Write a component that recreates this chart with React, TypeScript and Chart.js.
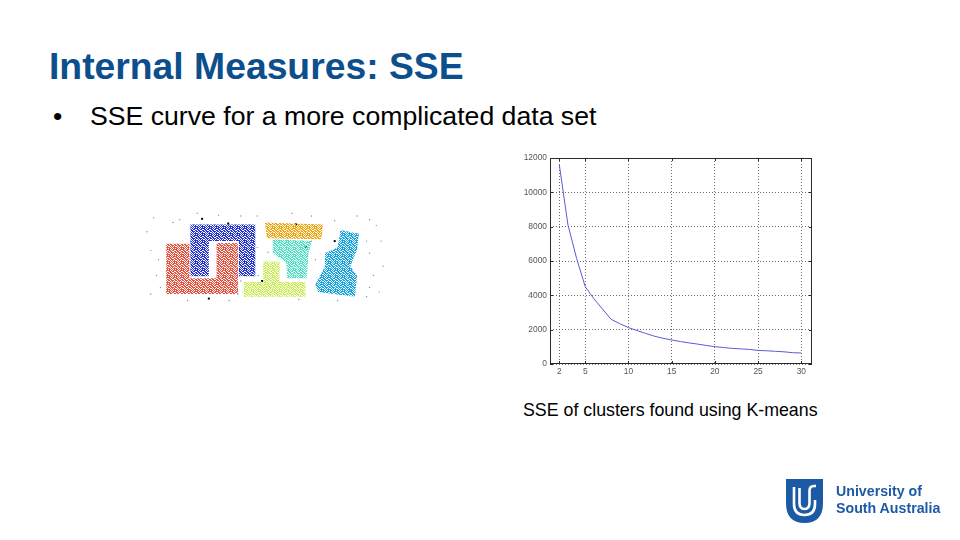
import React, { useEffect, useRef } from "react";
import { Chart, registerables } from "chart.js";
Chart.register(...registerables);

// ---- SSE curve data ----
const kValues = [2, 3, 4, 5, 6, 7, 8, 9, 10, 11, 12, 13, 14, 15, 16, 17, 18, 19, 20, 21, 22, 23, 24, 25, 26, 27, 28, 29, 30];
const sseValues = [11600, 8100, 6150, 4500, 3800, 3200, 2600, 2350, 2120, 1950, 1780, 1620, 1500, 1400, 1310, 1230, 1160, 1080, 1010, 960, 910, 880, 850, 790, 770, 740, 710, 660, 640];
const xTicks = [2, 5, 10, 15, 20, 25, 30];
const yTicks = [0, 2000, 4000, 6000, 8000, 10000, 12000];

// ---- cluster picture data (image units) ----
const redCluster = [[23, 43], [47, 43], [47, 80], [75, 80], [75, 42], [97, 42], [97, 97], [23, 97], [23, 43]];
const blueCluster = [[48, 22], [115, 22], [115, 78], [98, 78], [98, 40], [67, 40], [67, 78], [48, 78], [48, 22]];
const orangeCluster = [[125, 20], [185, 22], [183, 38], [127, 37], [125, 20]];
const cyanCluster = [[133, 38], [173, 40], [170, 53], [168, 80], [148, 80], [147, 63], [133, 53], [133, 38]];
const limeCluster = [[123, 62], [140, 62], [140, 84], [167, 84], [167, 100], [103, 100], [103, 84], [123, 84], [123, 62]];
const skyCluster = [[203, 28], [222, 32], [220, 50], [213, 67], [220, 77], [218, 100], [180, 95], [177, 87], [187, 67], [187, 53], [200, 47], [203, 28]];
const noisePoints = [[10, 15], [37, 17], [55, 10], [77, 12], [100, 13], [117, 13], [153, 10], [173, 13], [197, 18], [220, 13], [233, 17], [240, 23], [7, 50], [13, 77], [17, 90], [7, 97], [100, 83], [97, 97], [117, 47], [118, 77], [177, 60], [173, 40], [230, 40], [233, 53], [237, 77], [233, 90], [230, 100], [247, 67], [213, 93], [3, 30], [30, 20], [245, 40], [128, 52], [108, 55], [15, 60], [243, 95], [160, 103], [88, 104], [45, 104], [200, 104]];
const centroids = [[60, 16], [87, 21], [157, 22], [167, 46], [197, 40], [122, 83], [67, 102]];

function makePattern(color: string): CanvasPattern | string {
  const c = document.createElement("canvas");
  c.width = 7;
  c.height = 7;
  const g = c.getContext("2d");
  if (!g) return color;
  g.fillStyle = color;
  const mask = [
    [0, 0], [1, 0], [3, 0], [5, 0], [6, 0],
    [1, 1], [2, 1], [4, 1], [5, 1],
    [0, 2], [2, 2], [3, 2], [6, 2],
    [0, 3], [1, 3], [3, 3], [4, 3], [5, 3],
    [2, 4], [4, 4], [6, 4],
    [0, 5], [1, 5], [3, 5], [5, 5], [6, 5],
    [1, 6], [2, 6], [4, 6], [6, 6],
  ];
  mask.forEach(([x, y]) => g.fillRect(x, y, 1, 1));
  const p = g.createPattern(c, "repeat");
  return p || color;
}

const boxPlugin = {
  id: "matlabBox",
  afterDraw(chart: any) {
    const { ctx, chartArea } = chart;
    const { left, top, right, bottom } = chartArea;
    ctx.save();
    ctx.strokeStyle = "#2a2a2a";
    ctx.lineWidth = 1;
    ctx.strokeRect(Math.round(left) + 0.5, Math.round(top) + 0.5, Math.round(right - left) - 1, Math.round(bottom - top) - 1);
    const xs = chart.scales.x;
    const ys = chart.scales.y;
    ctx.beginPath();
    xTicks.forEach((v) => {
      const px = Math.round(xs.getPixelForValue(v)) + 0.5;
      ctx.moveTo(px, bottom);
      ctx.lineTo(px, bottom - 3);
      ctx.moveTo(px, top);
      ctx.lineTo(px, top + 3);
    });
    yTicks.forEach((v) => {
      const py = Math.round(ys.getPixelForValue(v)) + 0.5;
      ctx.moveTo(left, py);
      ctx.lineTo(left + 3, py);
      ctx.moveTo(right, py);
      ctx.lineTo(right - 3, py);
    });
    ctx.stroke();
    ctx.restore();
  },
};

function SSEChart() {
  const ref = useRef<HTMLCanvasElement>(null);
  useEffect(() => {
    if (!ref.current) return;
    const tickFont = { size: 8.4, family: "'Liberation Sans', Arial, sans-serif" };
    const chart = new Chart(ref.current, {
      type: "line",
      data: {
        datasets: [
          {
            data: kValues.map((k, i) => ({ x: k, y: sseValues[i] })),
            borderColor: "#5a5ad8",
            borderWidth: 1,
            pointRadius: 0,
            tension: 0,
            fill: false,
          },
        ],
      },
      options: {
        animation: false,
        responsive: false,
        events: [],
        layout: { padding: { top: 8, right: 8, left: 0, bottom: 0 } },
        plugins: { legend: { display: false }, tooltip: { enabled: false } },
        scales: {
          x: {
            type: "linear",
            min: 0.92,
            max: 31.24,
            afterBuildTicks: (s: any) => {
              s.ticks = xTicks.map((v) => ({ value: v }));
            },
            afterFit: (s: any) => {
              s.height = 16;
            },
            grid: { color: "#444", lineWidth: 0.8, drawTicks: false },
            border: { display: false, dash: [1, 2] },
            ticks: { color: "#555", font: tickFont, padding: 3, maxRotation: 0, autoSkip: false, callback: (v: any) => String(v) },
          },
          y: {
            type: "linear",
            min: 0,
            max: 12000,
            afterBuildTicks: (s: any) => {
              s.ticks = yTicks.map((v) => ({ value: v }));
            },
            afterFit: (s: any) => {
              s.width = 30;
            },
            grid: { color: "#444", lineWidth: 0.8, drawTicks: false },
            border: { display: false, dash: [1, 2] },
            ticks: { color: "#555", font: tickFont, padding: 3, autoSkip: false, callback: (v: any) => String(v) },
          },
        },
      },
      plugins: [boxPlugin],
    } as any);
    return () => chart.destroy();
  }, []);
  return <canvas ref={ref} width={300} height={230} style={{ position: "absolute", left: 520, top: 150 }} />;
}

function ClusterChart() {
  const ref = useRef<HTMLCanvasElement>(null);
  useEffect(() => {
    if (!ref.current) return;
    const shape = (pts: number[][], color: string) => ({
      type: "scatter",
      data: pts.map(([x, y]) => ({ x, y })),
      showLine: true,
      borderWidth: 0,
      borderColor: "rgba(0,0,0,0)",
      backgroundColor: makePattern(color),
      fill: "shape",
      pointRadius: 0,
      tension: 0,
    });
    const chart = new Chart(ref.current, {
      type: "scatter",
      data: {
        datasets: [
          shape(redCluster, "#e8503c"),
          shape(blueCluster, "#2232d6"),
          shape(orangeCluster, "#f2a40c"),
          shape(cyanCluster, "#4ee3c4"),
          shape(limeCluster, "#cbee5a"),
          shape(skyCluster, "#10a6e6"),
          {
            type: "scatter",
            data: noisePoints.map(([x, y]) => ({ x, y })),
            pointRadius: 0.7,
            borderWidth: 0,
            backgroundColor: "#8a8ab8",
          },
          {
            type: "scatter",
            data: centroids.map(([x, y]) => ({ x, y })),
            pointRadius: 1.4,
            pointStyle: "rect",
            borderWidth: 0,
            backgroundColor: "#000",
          },
        ],
      },
      options: {
        animation: false,
        responsive: false,
        events: [],
        layout: { padding: 0 },
        plugins: { legend: { display: false }, tooltip: { enabled: false } },
        scales: {
          x: { type: "linear", min: 0, max: 250, display: false },
          y: { type: "linear", min: 0, max: 110, reverse: true, display: false },
        },
      },
    } as any);
    return () => chart.destroy();
  }, []);
  return <canvas ref={ref} width={250} height={110} style={{ position: "absolute", left: 140, top: 200 }} />;
}

function Logo() {
  return (
    <>
      <svg width={960} height={540} style={{ position: "absolute", left: 0, top: 0 }}>
        <path d="M786 479 H823 V503 Q823 523 804.5 523 Q786 523 786 503 Z" fill="#1d5aa6" />
        <path d="M794 487 V504 Q794 515 804.5 515 Q815 515 815 504 V500" stroke="#fff" strokeWidth={2.6} fill="none" />
        <path d="M799.5 488 V503 Q799.5 509 804.5 509 Q809.5 509 809.5 503 V491 Q809.5 486 814 486 H816" stroke="#fff" strokeWidth={2.6} fill="none" />
      </svg>
      <div style={{ position: "absolute", left: 836, top: 483, font: "bold 14.2px 'Liberation Sans', Arial, sans-serif", color: "#1d5aa6", lineHeight: "17px", whiteSpace: "nowrap" }}>
        University of
        <br />
        South Australia
      </div>
    </>
  );
}

export default function App() {
  useEffect(() => {
    document.body.style.margin = "0";
  }, []);
  return (
    <div style={{ position: "fixed", left: 0, top: 0, width: 960, height: 540, background: "#fff", overflow: "hidden", fontFamily: "'Liberation Sans', Arial, sans-serif" }}>
      <div style={{ position: "absolute", left: 49, top: 79 - 31, fontSize: 37.3, lineHeight: "37px", fontWeight: "bold", color: "#0d4e8c", whiteSpace: "nowrap" }}>
        Internal Measures: SSE
      </div>
      <div style={{ position: "absolute", left: 53, top: 125 - 22.5, fontSize: 26.5, lineHeight: "26.5px", color: "#000", whiteSpace: "nowrap" }}>
        •
      </div>
      <div style={{ position: "absolute", left: 90, top: 125 - 22.5, fontSize: 26.65, lineHeight: "26.5px", color: "#000", whiteSpace: "nowrap" }}>
        SSE curve for a more complicated data set
      </div>
      <ClusterChart />
      <SSEChart />
      <div style={{ position: "absolute", left: 523, top: 417 - 15, fontSize: 17.8, lineHeight: "17.8px", color: "#000", whiteSpace: "nowrap" }}>
        SSE of clusters found using K-means
      </div>
      <Logo />
    </div>
  );
}
